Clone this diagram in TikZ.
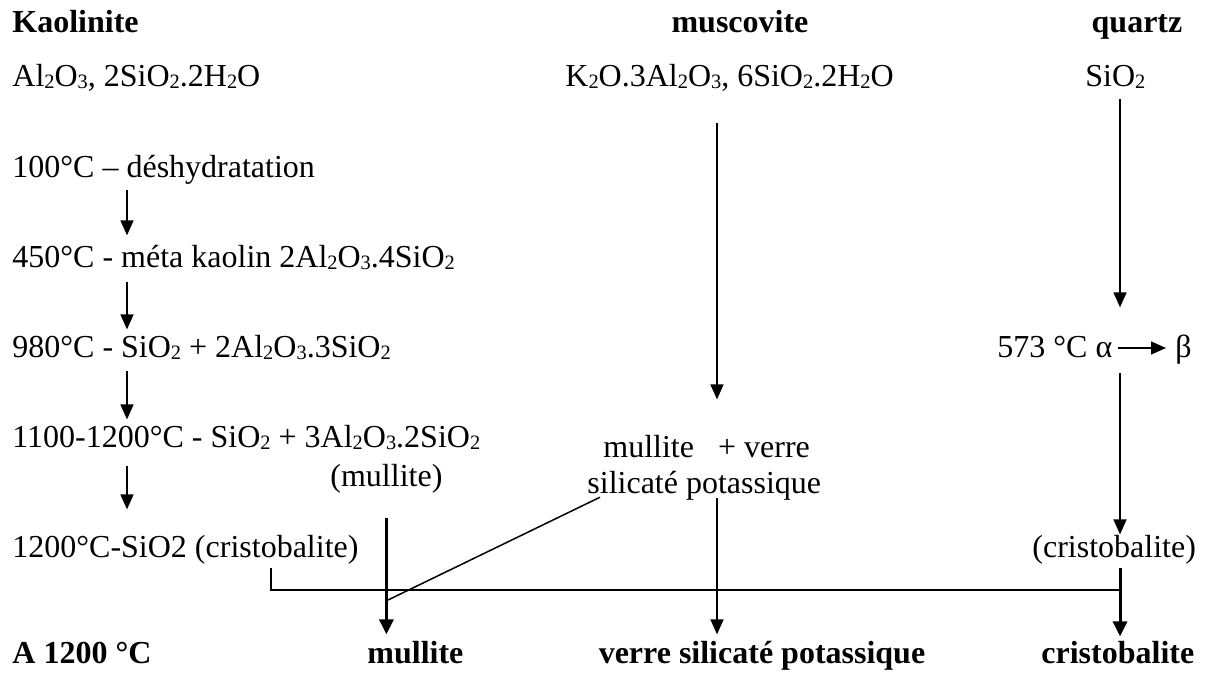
\documentclass[tikz,border=0pt]{standalone}
\usepackage{fontspec}
\setmainfont{Liberation Serif}
\usetikzlibrary{arrows.meta}
\newcommand\ssb[1]{\raisebox{-1.3pt}{\fontsize{10.2}{12}\selectfont #1}}
\begin{document}
\begin{tikzpicture}[x=0.5pt,y=-0.5pt,
  lbl/.style={anchor=base west,inner sep=0pt,font=\fontsize{16}{19}\selectfont},
  hd/.style={anchor=base west,inner sep=0pt,font=\fontsize{16}{19}\selectfont\bfseries},
  tarr/.style={line width=0.75pt,-{Triangle[length=7.5pt,width=6.5pt]}},
  karr/.style={line width=1.5pt,-{Triangle[length=7.5pt,width=7pt]}},
  ln/.style={line width=0.75pt}]
\useasboundingbox (0,0) rectangle (1208,675);
% headers
\node[hd] (kao) at (12,32) {Kaolinite};
\node[hd,anchor=base] (mus) at (740,32) {muscovite};
\node[hd,anchor=base] (qua) at (1137,32) {quartz};
% formulas
\node[lbl] (k0) at (12,86) {Al\ssb{2}O\ssb{3}, 2SiO\ssb{2}.2H\ssb{2}O};
\node[lbl] (m0) at (565,86) {K\ssb{2}O.3Al\ssb{2}O\ssb{3}, 6SiO\ssb{2}.2H\ssb{2}O};
\node[lbl] (q0) at (1085,86) {SiO\ssb{2}};
% kaolinite steps
\node[lbl] (k1) at (12,177) {100°C – déshydratation};
\node[lbl] (k2) at (12,267) {450°C - méta kaolin 2Al\ssb{2}O\ssb{3}.4SiO\ssb{2}};
\node[lbl] (k3) at (12,357) {980°C - SiO\ssb{2} + 2Al\ssb{2}O\ssb{3}.3SiO\ssb{2}};
\node[lbl] (k4) at (12,447) {1100-1200°C - SiO\ssb{2} + 3Al\ssb{2}O\ssb{3}.2SiO\ssb{2}};
\node[lbl] (k4b) at (330,486) {(mullite)};
\node[lbl] (k5) at (12,557) {1200°C-SiO2 (cristobalite)};
% muscovite
\node[lbl] (m1) at (603,457) {mullite\ \ \ + verre};
\node[lbl] (m1b) at (587,493) {silicaté potassique};
% quartz
\node[lbl] (q1) at (997,357) {573 °C α};
\node[lbl] (q1b) at (1175,357) {β};
\node[lbl] (q2) at (1032,557) {(cristobalite)};
% results
\node[hd] (r0) at (12,663) {A 1200 °C};
\node[hd] (r1) at (367,663) {mullite};
\node[hd,anchor=base] (r2) at (762,663) {verre silicaté potassique};
\node[hd] (r3) at (1041,663) {cristobalite};
% column coordinates
\coordinate (ka) at (127,0);
\coordinate (mx) at (717,0);
\coordinate (qx) at (1120,0);
\coordinate (lx) at (271,0);
\coordinate (dj) at (388,600);
\coordinate (hj) at (1120,590);
% kaolinite arrows
\draw[tarr,shorten <=3pt,shorten >=4.5pt] (k1.south -| ka) -- (k2.north -| ka);
\draw[tarr,shorten <=6pt,shorten >=2.5pt] (k2.south -| ka) -- (k3.north -| ka);
\draw[tarr,shorten <=5.5pt,shorten >=2.5pt] (k3.south -| ka) -- (k4.north -| ka);
\draw[tarr,shorten <=8pt,shorten >=12.5pt] (k4.south -| ka) -- (k5.north -| ka);
% muscovite arrows
\draw[tarr,shorten <=16pt,shorten >=17.5pt] (m0.south -| mx) -- (m1.north -| mx);
\draw[tarr,shorten <=-1pt,shorten >=3pt] (m1b.south -| mx) -- (r2.north -| mx);
\draw[ln] ([xshift=6.5pt,yshift=1.5pt]m1b.south west) -- (dj);
% mullite thick arrow
\draw[karr,shorten <=12.5pt,shorten >=3pt] (k4b.south) -- (k4b.south |- r1.north);
% collector line
\draw[ln] (k5.south -| lx) ++(0,4) -- (lx |- hj) -- (hj);
% quartz arrows
\draw[tarr,shorten <=5pt,shorten >=14pt] (q0.south -| qx) -- (q1.north -| qx);
\draw[tarr,shorten <=2.5pt,shorten >=4.5pt] ([yshift=4.5pt]q1.base east) -- ([yshift=4.5pt]q1b.base west);
\draw[tarr,shorten <=7.5pt,shorten >=0pt] (q1.south -| qx) -- (q2.north -| qx);
\draw[karr,shorten <=2pt,shorten >=2pt] (q2.south -| qx) -- (r3.north -| qx);
\end{tikzpicture}
\end{document}
